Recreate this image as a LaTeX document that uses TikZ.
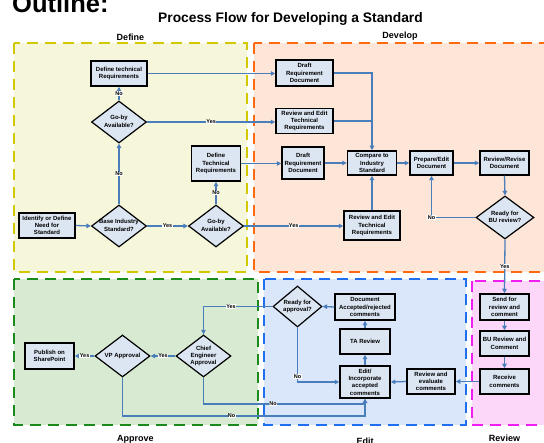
\documentclass[tikz,border=0pt]{standalone}
\usepackage{fontspec}
\setmainfont{Liberation Sans}
\usetikzlibrary{shapes.geometric,arrows.meta}

\definecolor{flowblue}{HTML}{4A7EBB}
\definecolor{boxfill}{HTML}{DCE6F2}
\definecolor{defFill}{HTML}{F6F6DA}
\definecolor{defLine}{HTML}{D2C800}
\definecolor{devFill}{HTML}{FDE5D7}
\definecolor{devLine}{HTML}{FF6A10}
\definecolor{appFill}{HTML}{D9EAD3}
\definecolor{appLine}{HTML}{1A8A1A}
\definecolor{editFill}{HTML}{DAE7FB}
\definecolor{editLine}{HTML}{1F6FF0}
\definecolor{revFill}{HTML}{FDD7FA}
\definecolor{revLine}{HTML}{F01EF0}

% text of a decision diamond: zero-size box, so the diamond keeps its given size
\newcommand{\dt}[1]{\makebox[0pt]{\raisebox{-1.5pt}[0pt][0pt]{\begin{tabular}{@{}c@{}}#1\end{tabular}}}}

\tikzset{
  nodefont/.style={font=\fontsize{6}{7.3}\selectfont\bfseries},
  box/.style={draw=black, line width=1.5pt, fill=boxfill, align=center,
              inner sep=0.5pt, nodefont},
  dec/.style={diamond, draw=black, line width=1.2pt, fill=boxfill, inner sep=0pt,
              minimum width=55pt, minimum height=42pt, nodefont},
  flow/.style={draw=flowblue, line width=1.3pt,
               -{Triangle[length=4.5pt,width=4.5pt]}},
  plain/.style={draw=flowblue, line width=1.3pt},
  lab/.style={fill=white, inner sep=0.4pt, font=\fontsize{5.5}{6}\selectfont\bfseries},
  zone/.style={line width=2.4pt, dash pattern=on 11pt off 7pt},
  zonelabel/.style={font=\fontsize{9}{10}\selectfont\bfseries},
}

\begin{document}
\begin{tikzpicture}[x=1pt,y=-1pt]
\useasboundingbox (0,0) rectangle (544,443);
\clip (0,0) rectangle (544,443);

% swim-lane areas
\fill[defFill] (14,43) rectangle (247,272);
\draw[zone, defLine] (14,43) rectangle (247,272);
\fill[devFill] (254,43) rectangle (560,272);
\draw[zone, devLine] (254,43) rectangle (560,272);
\fill[appFill] (14,279) rectangle (258,425);
\draw[zone, appLine] (14,279) rectangle (258,425);
\fill[editFill] (264,279) rectangle (466,425);
\draw[zone, editLine] (264,279) rectangle (466,425);
\fill[revFill] (472,281) rectangle (560,425);
\draw[zone, revLine] (472,281) rectangle (560,425);

% headings
\node[anchor=base west, font=\fontsize{25.5}{28}\selectfont\bfseries, inner sep=0pt] (outline) at (12,13) {Outline:};
\node[font=\fontsize{13.8}{15}\selectfont\bfseries] (title) at (290.5,19) {Process Flow for Developing a Standard};
\node[zonelabel] (lbdef) at (130.5,37) {Define};
\node[zonelabel] (lbdev) at (400,36.5) {Develop};
\node[zonelabel] (lbapp) at (135.5,439) {Approve};
\node[zonelabel] (lbedit) at (365,441) {Edit};
\node[zonelabel] (lbrev) at (504.5,438) {Review};

% Define
\node[box, minimum width=56pt, minimum height=25pt] (deftop) at (119,73.5) {Define technical\\Requirements};
\node[dec] (gobytop) at (119,122) {\dt{Go-by\\Available?}};
\node[box, minimum width=56pt, minimum height=25pt] (ident) at (47,225.5) {Identify or Define\\Need for\\Standard};
\node[dec] (base) at (119,226) {\dt{Base Industry\\Standard?}};
\node[dec] (gobylow) at (216,226) {\dt{Go-by\\Available?}};
\node[box, minimum width=49pt, minimum height=35pt] (deflow) at (216,163.5) {Define\\Technical\\Requirements};

% Develop
\node[box, minimum width=57pt, minimum height=26pt] (drafttop) at (304.5,73) {Draft\\Requirement\\Document};
\node[box, minimum width=57pt, minimum height=25pt] (revtop) at (304.5,121) {Review and Edit\\Technical\\Requirements};
\node[box, minimum width=42pt, minimum height=32pt] (draftlow) at (303,163) {Draft\\Requirement\\Document};
\node[box, minimum width=49pt, minimum height=24pt] (compare) at (372,163) {Compare to\\Industry\\Standard};
\node[box, minimum width=43pt, minimum height=24pt] (prepare) at (431.5,163) {Prepare/Edit\\Document};
\node[box, minimum width=49pt, minimum height=24pt] (revise) at (504.5,163) {Review/Revise\\Document};
\node[dec, minimum width=58pt, minimum height=43pt] (readybu) at (505,217.5) {\dt{Ready for\\BU review?}};
\node[box, minimum width=56pt, minimum height=29pt] (revlow) at (372,225.5) {Review and Edit\\Technical\\Requirements};

% Review
\node[box, minimum width=49pt, minimum height=26pt] (send) at (504.5,307) {Send for\\review and\\comment};
\node[box, minimum width=49pt, minimum height=25pt] (bu) at (504.5,343.5) {BU Review and\\Comment};
\node[box, minimum width=49pt, minimum height=25pt] (receive) at (504.5,381.5) {Receive\\comments};

% Edit
\node[box, minimum width=48pt, minimum height=25pt] (evaluate) at (431,381.5) {Review and\\evaluate\\comments};
\node[box, minimum width=50pt, minimum height=32pt] (incorp) at (365,382) {Edit/\\Incorporate\\accepted\\comments};
\node[box, minimum width=50pt, minimum height=25pt] (ta) at (365,341.5) {TA Review};
\node[box, minimum width=60pt, minimum height=26pt] (docacc) at (365,307) {Document\\Accepted/rejected\\comments};
\node[dec, minimum width=49pt, minimum height=41pt] (readyapp) at (297.5,306.5) {\dt{Ready for\\approval?}};

% Approve
\node[dec] (chief) at (203.5,356) {\dt{Chief\\Engineer\\Approval}};
\node[dec] (vp) at (122.5,356) {\dt{VP Approval}};
\node[box, minimum width=49pt, minimum height=26pt] (publish) at (49.5,356) {Publish on\\SharePoint};

\coordinate (noA) at (365,404);
\coordinate (noB) at (365,416);

% connectors
\draw[flow] (gobytop.north) -- node[lab]{No} (deftop.south);
\draw[flow] (deftop.east) -- (deftop.east -| drafttop.west);
\draw[flow] (gobytop.east) -- node[lab]{Yes} (gobytop.east -| revtop.west);
\draw[flow] (ident.east) -- (base.west);
\draw[flow] (base.north) -- node[lab]{No} (gobytop.south);
\draw[flow] (base.east) -- node[lab]{Yes} (gobylow.west);
\draw[flow] (gobylow.north) -- node[lab]{No} (deflow.south);
\draw[flow] (deflow.east) -- (deflow.east -| draftlow.west);
\draw[flow] (gobylow.east) -- node[lab]{Yes} (gobylow.east -| revlow.west);

\draw[flow] (drafttop.east) -| (compare.north);
\draw[plain] (revtop.east) -- (revtop.east -| compare.north);
\draw[flow] (draftlow.east) -- (compare.west);
\draw[flow] (revlow.north) -- (compare.south);
\draw[flow] (compare.east) -- (prepare.west);
\draw[flow] (prepare.east) -- (revise.west);
\draw[flow] (revise.south) -- (readybu.north);
\draw[flow] (readybu.west) -| node[lab]{No} (prepare.south);
\draw[flow] (readybu.south) -- node[lab]{Yes} (send.north);

\draw[flow] (send.south) -- (bu.north);
\draw[flow] (bu.south) -- (receive.north);
\draw[flow] (receive.west) -- (evaluate.east);
\draw[flow] (evaluate.west) -- (incorp.east);
\draw[flow] (incorp.north) -- (ta.south);
\draw[flow] (ta.north) -- (docacc.south);
\draw[flow] (docacc.west) -- (readyapp.east);
\draw[flow] (readyapp.south) |- node[lab, pos=0.45]{No} (incorp.west);
\draw[flow] (readyapp.west) -| node[lab, pos=0.3]{Yes} (chief.north);

\draw[flow] (chief.west) -- node[lab]{Yes} (vp.east);
\draw[flow] (vp.west) -- node[lab]{Yes} (publish.east);
\draw[flow] (chief.south) |- node[lab, pos=0.715]{No} (noA) -- (incorp.south);
\draw[flow] (vp.south) |- node[lab, pos=0.725]{No} (noB) -- (incorp.south);
\end{tikzpicture}
\end{document}
